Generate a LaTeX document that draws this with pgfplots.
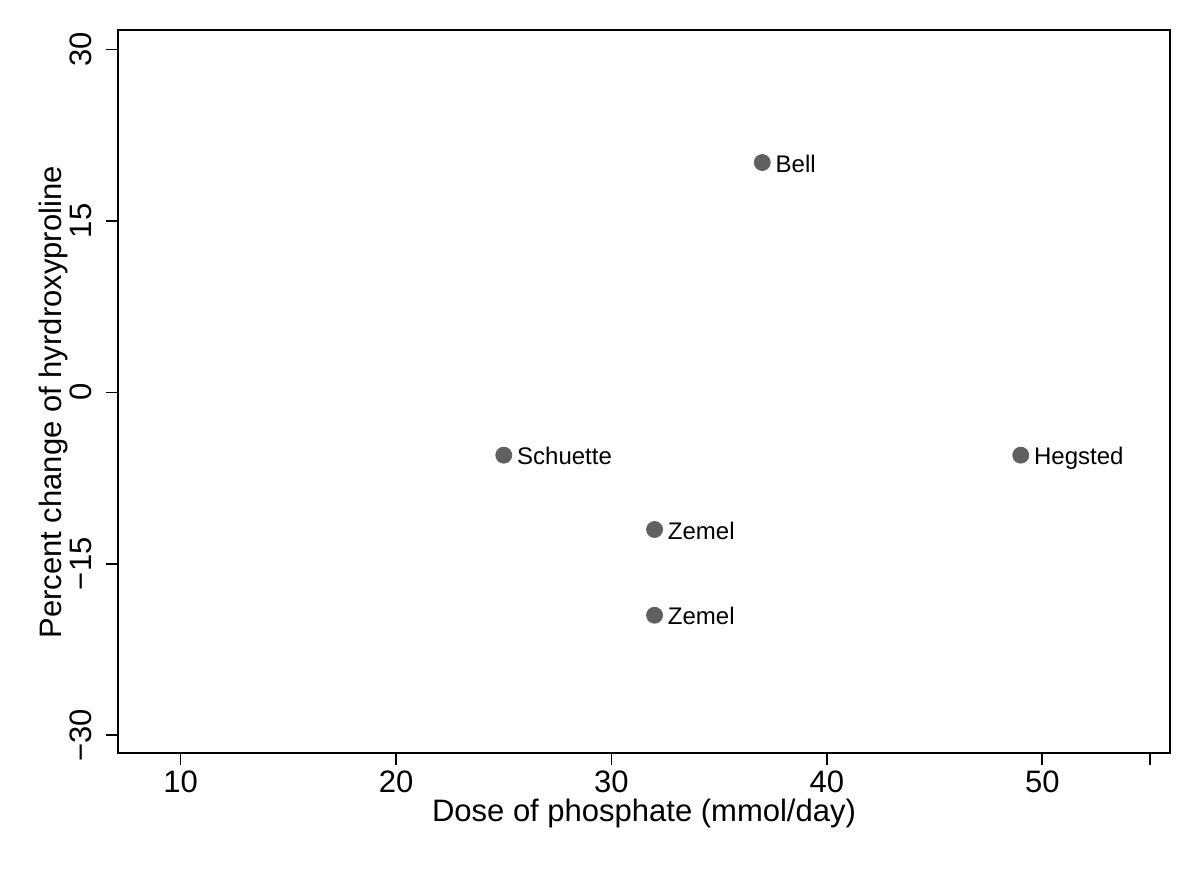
\documentclass[border=0pt]{standalone}
\usepackage{fontspec}
\setmainfont{Liberation Sans}
\usepackage{graphicx}
\usepackage{pgfplots}
\usepackage{pgfplotstable}
\pgfplotsset{compat=1.18}

\definecolor{markgray}{RGB}{96,96,96}

\pgfplotstableread{
x y label
37 20.1 Bell
25 -5.5 Schuette
49 -5.5 Hegsted
32 -12.0 Zemel
32 -19.5 Zemel
}\studies

\begin{document}
\begin{tikzpicture}
\begin{axis}[
    at={(0,0)}, anchor=south west,
    scale only axis,
    width=526pt, height=361.5pt,
    xmin=7.09, xmax=55.93,
    ymin=-31.55, ymax=31.69,
    xtick={10,20,30,40,50},
    extra x ticks={55},
    extra x tick labels={},
    ytick={-30,-15,0,15,30},
    yticklabels={\rotatebox{90}{−30},\rotatebox{90}{−15},\rotatebox{90}{0},\rotatebox{90}{15},\rotatebox{90}{30}},
    tick pos=left,
    tick align=outside,
    major tick length=6pt,
    axis line style={line width=0.8pt},
    every tick/.style={black, line width=0.8pt},
    tick label style={font=\fontsize{15.5}{18}\selectfont},
    /pgf/number format/assume math mode=true,
    yticklabel style={anchor=east, inner sep=0pt, xshift=-7pt},
    xticklabel style={anchor=north, inner sep=0pt, yshift=-2.5pt},
    xlabel={Dose of phosphate (mmol/day)},
    ylabel={Percent change of hyrdroxyproline},
    label style={font=\fontsize{15.5}{18}\selectfont},
    xlabel style={at={(axis description cs:0.5,0)}, anchor=north, inner sep=0pt, yshift=-23pt},
    ylabel style={at={(axis description cs:0,0.485)}, anchor=south, inner sep=0pt, yshift=25pt},
]
\addplot[only marks, mark=*, mark size=4pt, color=markgray,
    nodes near coords, point meta=explicit symbolic,
    every node near coord/.style={anchor=base west, black, inner sep=0pt,
        xshift=6.5pt, yshift=-4.8pt,
        font=\fontsize{12}{14}\selectfont}]
    table[x=x, y=y, meta=label] {\studies};
\end{axis}
\path[use as bounding box] (-59pt,-60pt) rectangle (541pt,376.5pt);
\end{tikzpicture}
\end{document}
